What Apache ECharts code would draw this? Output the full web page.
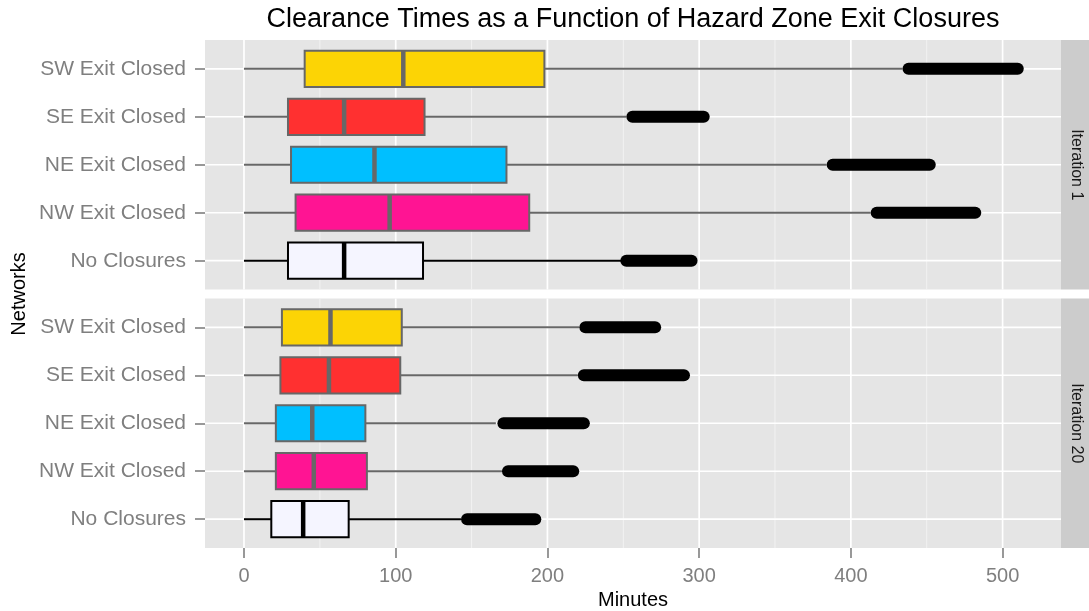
<!DOCTYPE html>
<html>
<head>
<meta charset="utf-8">
<script src="https://cdn.jsdelivr.net/npm/echarts@6/dist/echarts.min.js"></script>
<style>
html,body{margin:0;padding:0;background:#fff;}
#chart{width:1089px;height:611px;}
</style>
</head>
<body>
<div id="chart"></div>
<script>
// ---------- data ----------
const categories = ['SW Exit Closed', 'SE Exit Closed', 'NE Exit Closed', 'NW Exit Closed', 'No Closures'];
const panels = ['Iteration 1', 'Iteration 20'];

// Iteration 1
const it1Low     = [0, 0, 0, 0, 0];
const it1Q1      = [40, 29, 31, 34, 29];
const it1Median  = [105, 66, 86, 96, 66];
const it1Q3      = [198, 119, 173, 188, 118];
const it1High    = [434, 252, 384, 413, 249];
const it1OutMin  = [438, 256, 388, 417, 252];
const it1OutMax  = [510, 303, 452, 482, 295];

// Iteration 20
const it20Low    = [0, 0, 0, 0, 0];
const it20Q1     = [25, 24, 21, 21, 18];
const it20Median = [57, 56, 45, 46, 39];
const it20Q3     = [104, 103, 80, 81, 69];
const it20High   = [221, 220, 166, 170, 143];
const it20OutMin = [225, 224, 171, 174, 147];
const it20OutMax = [271, 290, 224, 217, 192];

const xMajorTicks = [0, 100, 200, 300, 400, 500];
const xMinorTicks = [50, 150, 250, 350, 450];

// ---------- styles ----------
const fillColors   = ['#FCD405', '#FF3030', '#00BFFF', '#FF1493', '#F5F5FF'];
const borderColors = ['#676767', '#676767', '#676767', '#676767', '#000000'];
const FONT = '"Liberation Sans", Arial, Helvetica, sans-serif';
const X_MIN = -25.7, X_MAX = 538.5;

function rows(lo, q1, md, q3, hi, omin, omax) {
  return categories.map((c, i) => [i, lo[i], q1[i], md[i], q3[i], hi[i], omin[i], omax[i]]);
}

function renderBox(params, api) {
  const cat = api.value(0);
  const idx = params.dataIndex;
  const pLo = api.coord([api.value(1), cat]);
  const pQ1 = api.coord([api.value(2), cat]);
  const pMd = api.coord([api.value(3), cat]);
  const pQ3 = api.coord([api.value(4), cat]);
  const pHi = api.coord([api.value(5), cat]);
  const pOa = api.coord([api.value(6), cat]);
  const pOb = api.coord([api.value(7), cat]);
  const band = api.size([0, 1])[1];
  const bh = band * 0.755;
  const cy = pLo[1];
  const cs = params.coordSys;
  const bc = borderColors[idx];
  return {
    type: 'group',
    children: [
      { type: 'line', shape: { x1: cs.x, y1: cy, x2: cs.x + cs.width, y2: cy },
        style: { stroke: '#FFFFFF', lineWidth: 1.7 } },
      { type: 'line', shape: { x1: pLo[0], y1: cy, x2: pQ1[0], y2: cy },
        style: { stroke: bc, lineWidth: 2 } },
      { type: 'line', shape: { x1: pQ3[0], y1: cy, x2: pHi[0], y2: cy },
        style: { stroke: bc, lineWidth: 2 } },
      { type: 'line', shape: { x1: pOa[0], y1: cy, x2: pOb[0], y2: cy },
        style: { stroke: '#000000', lineWidth: 12, lineCap: 'round' } },
      { type: 'rect', shape: { x: pQ1[0], y: cy - bh / 2, width: pQ3[0] - pQ1[0], height: bh },
        style: { fill: fillColors[idx], stroke: bc, lineWidth: 2 } },
      { type: 'line', shape: { x1: pMd[0], y1: cy - bh / 2, x2: pMd[0], y2: cy + bh / 2 },
        style: { stroke: bc, lineWidth: 4.5 } }
    ]
  };
}

function gridLineRenderer(color, width) {
  return function (params, api) {
    const x = api.coord([api.value(0), 0])[0];
    const cs = params.coordSys;
    return { type: 'line', shape: { x1: x, y1: cs.y, x2: x, y2: cs.y + cs.height },
             style: { stroke: color, lineWidth: width } };
  };
}

const PANEL_LEFT = 205, PANEL_RIGHT = 28, PANEL_H = 249.5;
const panelTops = [40, 298.5];
const unit = PANEL_H / 5.2;

const grids = [], xAxes = [], yAxes = [], series = [], graphics = [];
panelTops.forEach((top, p) => {
  // background grid (full panel)
  grids.push({ left: PANEL_LEFT, right: PANEL_RIGHT, top: top, height: PANEL_H,
               show: true, backgroundColor: '#E5E5E5', borderWidth: 0 });
  // data grid (inset for ggplot discrete expansion)
  grids.push({ left: PANEL_LEFT, right: PANEL_RIGHT, top: top + unit * 0.1, height: unit * 5, show: false });
});

// axes
panelTops.forEach((top, p) => {
  const bgIdx = p * 2, dIdx = p * 2 + 1;
  const isBottom = p === panelTops.length - 1;
  xAxes.push({
    type: 'value', gridIndex: bgIdx, min: X_MIN, max: X_MAX,
    axisLine: { show: false, onZero: false },
    splitLine: { show: false },
    axisTick: { show: isBottom, customValues: xMajorTicks, length: 10,
                lineStyle: { color: '#7F7F7F', width: 1.6 } },
    axisLabel: { show: isBottom, customValues: xMajorTicks, color: '#7F7F7F',
                 fontSize: 20, margin: 18, fontFamily: FONT },
    name: isBottom ? 'Minutes' : '', nameLocation: 'middle', nameGap: 42,
    nameTextStyle: { color: '#000', fontSize: 20, fontFamily: FONT }
  });
  yAxes.push({ type: 'value', gridIndex: bgIdx, min: 0, max: 1, show: false });
  xAxes.push({ type: 'value', gridIndex: dIdx, min: X_MIN, max: X_MAX, show: false });
  yAxes.push({
    type: 'category', gridIndex: dIdx, data: categories, inverse: true,
    axisLine: { show: false, onZero: false },
    axisTick: { show: true, alignWithLabel: true, length: 10,
                lineStyle: { color: '#7F7F7F', width: 1.6 } },
    axisLabel: { color: '#7F7F7F', fontSize: 21, margin: 19, fontFamily: FONT },
    splitLine: { show: false }
  });
  // grid lines
  series.push({ type: 'custom', xAxisIndex: bgIdx, yAxisIndex: bgIdx, silent: true, z: 1,
                data: xMinorTicks.map(v => [v]), renderItem: gridLineRenderer('#F2F2F2', 1) });
  series.push({ type: 'custom', xAxisIndex: bgIdx, yAxisIndex: bgIdx, silent: true, z: 1,
                data: xMajorTicks.map(v => [v]), renderItem: gridLineRenderer('#FFFFFF', 1.7) });
  // strip
  graphics.push({ type: 'rect', shape: { x: 1089 - PANEL_RIGHT, y: top, width: PANEL_RIGHT, height: PANEL_H },
                  style: { fill: '#CCCCCC' } });
  graphics.push({ type: 'text', x: 1089 - PANEL_RIGHT / 2 + 1, y: top + PANEL_H / 2, rotation: -Math.PI / 2,
                  style: { text: panels[p], fill: '#1A1A1A', font: '16px ' + FONT,
                           align: 'center', verticalAlign: 'middle' } });
});

series.push({ type: 'custom', name: panels[0], xAxisIndex: 1, yAxisIndex: 1, z: 5,
              data: rows(it1Low, it1Q1, it1Median, it1Q3, it1High, it1OutMin, it1OutMax),
              renderItem: renderBox });
series.push({ type: 'custom', name: panels[1], xAxisIndex: 3, yAxisIndex: 3, z: 5,
              data: rows(it20Low, it20Q1, it20Median, it20Q3, it20High, it20OutMin, it20OutMax),
              renderItem: renderBox });

graphics.push({ type: 'text', x: 19, y: (panelTops[0] + panelTops[1] + PANEL_H) / 2, rotation: Math.PI / 2,
                style: { text: 'Networks', fill: '#000', font: '20px ' + FONT,
                         align: 'center', verticalAlign: 'middle' } });

const chart = echarts.init(document.getElementById('chart'), null, { renderer: 'canvas' });
chart.setOption({
  animation: false,
  backgroundColor: '#FFFFFF',
  textStyle: { fontFamily: FONT },
  title: {
    text: 'Clearance Times as a Function of Hazard Zone Exit Closures',
    left: PANEL_LEFT + (1089 - PANEL_LEFT - PANEL_RIGHT) / 2, top: 6, textAlign: 'center',
    padding: [0, 0, 0, 0],
    textStyle: { color: '#000', fontSize: 27, fontWeight: 'normal', fontFamily: FONT }
  },
  grid: grids,
  xAxis: xAxes,
  yAxis: yAxes,
  series: series,
  graphic: graphics
});
</script>
</body>
</html>
